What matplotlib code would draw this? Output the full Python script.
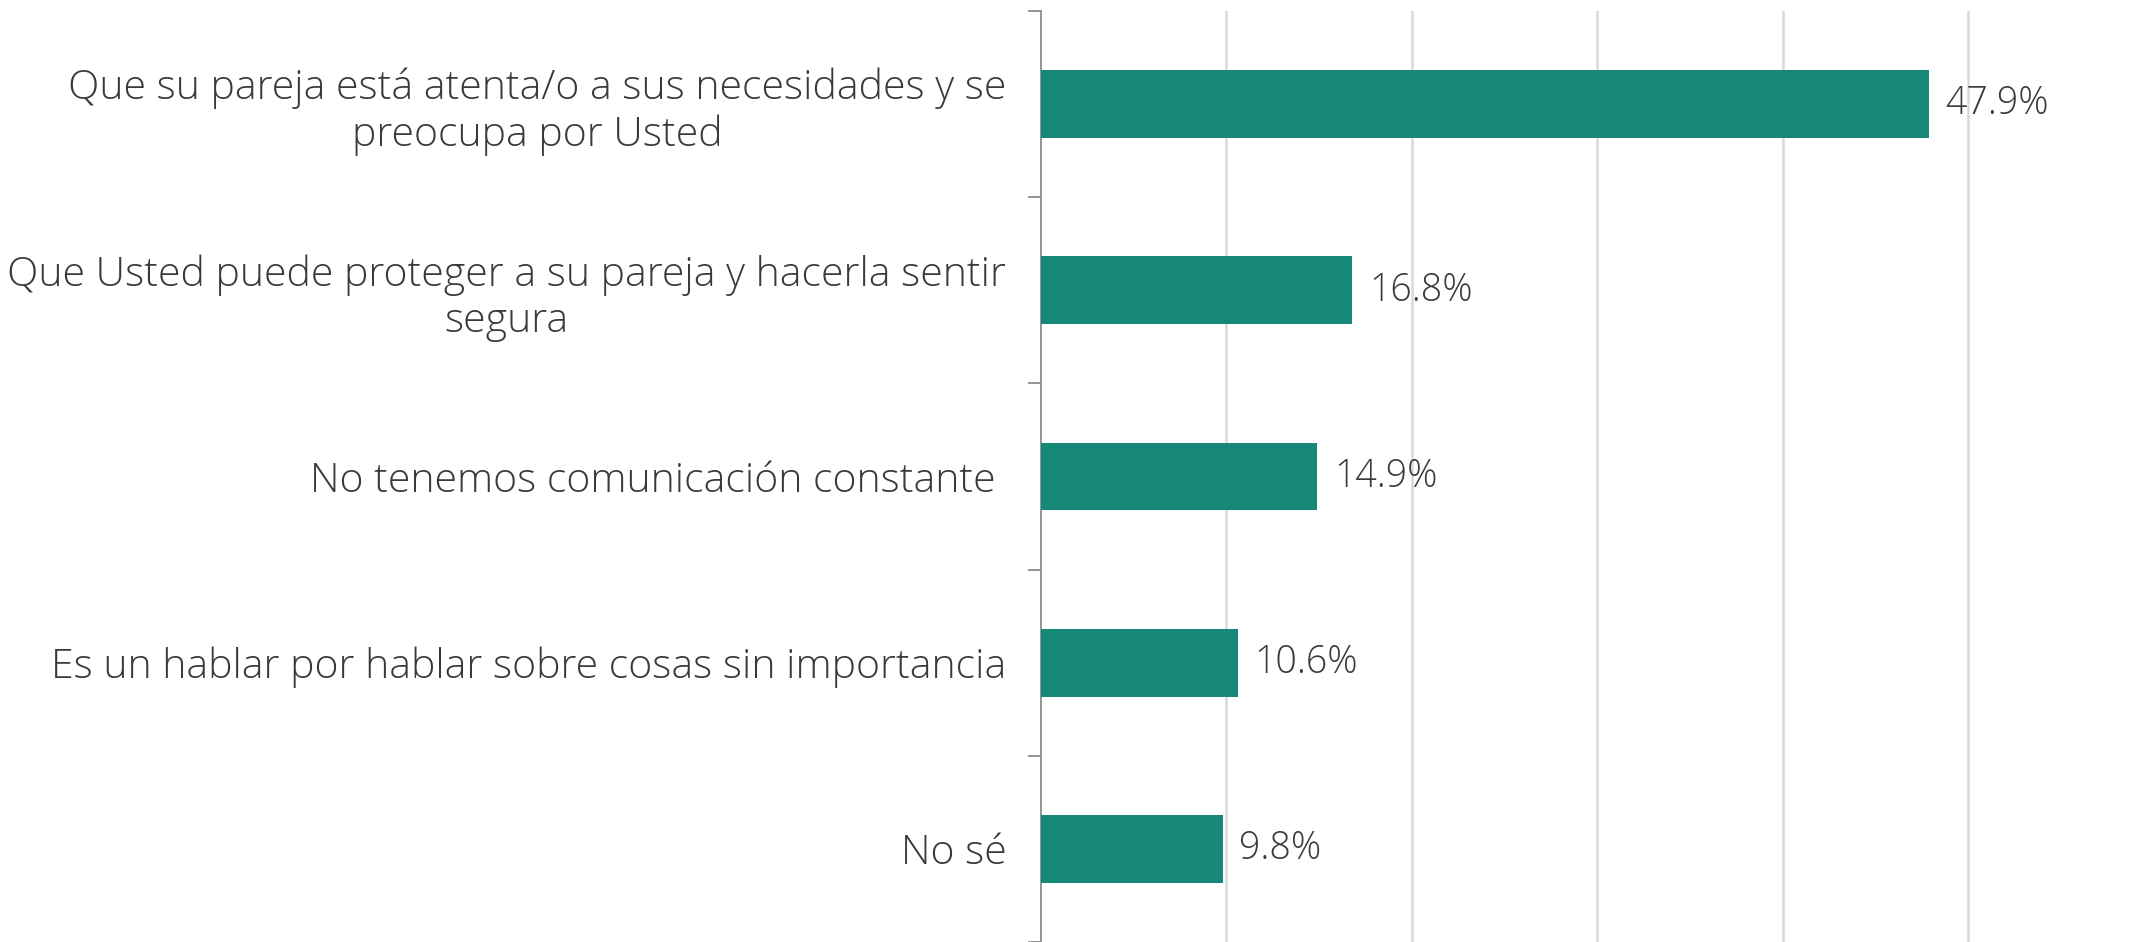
import matplotlib.pyplot as plt

categories = [
    "Que su pareja está atenta/o a sus necesidades y se\npreocupa por Usted",
    "Que Usted puede proteger a su pareja y hacerla sentir\nsegura",
    "No tenemos comunicación constante ",
    "Es un hablar por hablar sobre cosas sin importancia",
    "No sé",
]
values = [47.9, 16.8, 14.9, 10.6, 9.8]
value_labels = ["47.9%", "16.8%", "14.9%", "10.6%", "9.8%"]

BAR_COLOR = "#158878"
TEXT_COLOR = "#3a3a3a"

plt.rcParams['font.family'] = ['Open Sans', 'DejaVu Sans']
plt.rcParams['font.weight'] = 'light'

fig = plt.figure(figsize=(21.51, 9.42), dpi=100)
ax = fig.add_axes([1041 / 2151, 0.0, (2151 - 1041) / 2151, 1 - 11 / 942])

n = len(categories)
ypos = list(range(n))
ax.barh(ypos, values, height=0.365, color=BAR_COLOR, zorder=3)

for y, v, lab in zip(ypos, values, value_labels):
    ax.annotate(lab, (v, y), xytext=(12, 0), textcoords='offset points',
                va='center', ha='left', fontsize=27, color=TEXT_COLOR)

ax.set_xlim(0, 59.87)
ax.set_ylim(n - 0.5, -0.5)
ax.set_xticks([10, 20, 30, 40, 50])
ax.xaxis.grid(True, color="#d9d9d9", linewidth=1.8, zorder=0)
ax.tick_params(axis='x', length=0, labelbottom=False)

# category ticks at boundaries, labels centred on bars
ax.set_yticks([i - 0.5 for i in range(n + 1)])
ax.set_yticklabels([])
ax.set_yticks(ypos, minor=True)
ax.set_yticklabels(categories, minor=True, fontsize=29.5, color=TEXT_COLOR,
                   multialignment='center', linespacing=1.17)
ax.tick_params(axis='y', which='major', length=9.5, width=1.3, color="#8c8c8c")
ax.tick_params(axis='y', which='minor', length=0, pad=25)

for s in ['top', 'right', 'bottom']:
    ax.spines[s].set_visible(False)
ax.spines['left'].set_color("#8c8c8c")
ax.spines['left'].set_linewidth(1.3)

fig.savefig("out.png", dpi=100)
